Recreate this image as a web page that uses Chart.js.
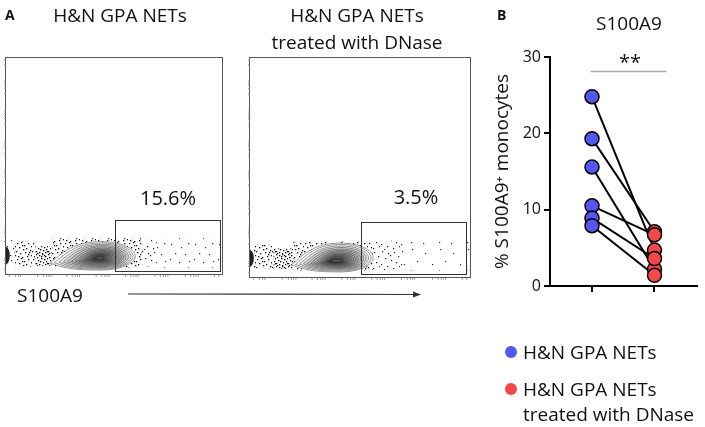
<!DOCTYPE html>
<html><head><meta charset="utf-8">
<script src="https://cdn.jsdelivr.net/npm/chart.js@4.4.0/dist/chart.umd.min.js"></script>
<style>
html,body{margin:0;padding:0;background:#fff;}
body{width:705px;height:427px;position:relative;overflow:hidden;font-family:'Open Sans',sans-serif;color:#111;}
.t{position:absolute;white-space:nowrap;line-height:1;transform:translate(-50%,-50%);font-size:19px;}
.l{position:absolute;white-space:nowrap;line-height:1;transform:translateY(-50%);font-size:19px;}
.b{font-weight:bold;font-size:14px;}
.box{position:absolute;}
.dot{position:absolute;width:12px;height:12px;border-radius:50%;transform:translate(-50%,-50%);}
</style></head><body>

<div class="box" style="left:0;top:50px;width:232px;height:232px;"><canvas id="f1" width="232" height="232"></canvas></div>
<div class="box" style="left:240px;top:50px;width:235px;height:235px;"><canvas id="f2" width="235" height="235"></canvas></div>
<div class="box" style="left:480px;top:0;width:225px;height:300px;"><canvas id="pb" width="225" height="300"></canvas></div>

<svg class="box" style="left:0;top:0" width="705" height="427">
  <line x1="128" y1="294" x2="415" y2="294.5" stroke="#333" stroke-width="1.2"/>
  <polygon points="413,291.5 421,294.5 413,297.5" fill="#333"/>
</svg>

<div id="labels"></div>

<script>
// ================= Panel A: flow plots =================
const panelLetters = ['A', 'B'];
const flowTitle1 = ['H&N GPA NETs'];
const flowTitle2 = ['H&N GPA NETs', 'treated with DNase'];
const flowAxisLabel = 'S100A9';
const gatePercents = ['15.6%', '3.5%'];
// gates in data units (x: S100A9 intensity 0-1000, y: 0-1000)
const gate1X = [505, 990], gate1Y = [15, 250];
const gate2X = [505, 982], gate2Y = [15, 250];
// contour levels: [xLeft, xRight, yBottom, yTop]
const contours1 = [
  [208, 600, 18, 149], [228, 590, 22, 143], [248, 580, 26, 137], [268, 569, 30, 131],
  [288, 558, 34, 125], [306, 547, 38, 119], [323, 536, 42, 113], [338, 525, 46, 108],
  [352, 514, 50, 103], [364, 503, 54, 98], [375, 493, 57, 94], [385, 484, 60, 90],
  [394, 475, 63, 86], [402, 466, 66, 82], [409, 458, 69, 79]
];
const contours2 = [
  [192, 562, 23, 154], [210, 552, 27, 148], [228, 541, 31, 141], [246, 530, 35, 134],
  [263, 519, 39, 127], [279, 507, 43, 121], [294, 495, 46, 115], [307, 484, 50, 109],
  [319, 473, 53, 104], [329, 463, 56, 99], [338, 454, 59, 94], [346, 445, 62, 90],
  [353, 437, 64, 86], [359, 430, 67, 82], [364, 423, 69, 79]
];
// pile-up at the left edge: [xLeft, xRight, yBottom, yTop]
const blob1 = [0, 22, 42, 128];
const blob2 = [0, 22, 45, 125];
// event bands: [xStart, xEnd, yBottom, yTop, density]
const events1 = [[0,45,40,155,'m'],[45,140,35,150,'d'],[140,215,38,128,'dd'],[215,630,30,165,'d'],[630,700,35,160,'m'],[700,1000,30,165,'s']];
const events2 = [[22,110,40,150,'d'],[110,200,38,130,'dd'],[200,560,30,160,'d'],[560,700,30,165,'m'],[700,1000,30,160,'s2']];
// minor tick positions on the flow axes
const flowTicksX = [20, 48, 62, 72, 150, 178, 192, 202, 212, 285, 310, 324, 334, 344, 420, 446, 460, 470, 480, 555, 580, 594, 604, 614, 690, 716, 730, 740, 750, 830, 856, 870, 880, 890, 965, 985];

// ================= Panel B: paired dot plot =================
const groupNames = ['H&N GPA NETs', 'H&N GPA NETs treated with DNase'];
const groupPos = [1, 2];
const untreated = [24.8, 19.3, 15.6, 10.5, 8.9, 7.9];
const dnase = [4.7, 7.1, 2.2, 6.7, 3.6, 1.4];
const yTicks = [0, 10, 20, 30];
const sigX = [0.98, 2.19], sigY = 28.1, sigLabel = '**';
const panelBTitle = 'S100A9';
const yAxisTitle = '% S100A9\u207A monocytes';

// ---- stipple patterns (style) ----
function makePattern(size, dots, color, dsz) {
  const c = document.createElement('canvas'); c.width = size; c.height = size;
  const g = c.getContext('2d'); g.fillStyle = color;
  dots.forEach(d => g.fillRect(d[0], d[1], dsz, dsz));
  return g.createPattern(c, 'repeat');
}
const patterns = {
  dd: makePattern(12, [[0,0],[3,1],[6,0],[9,2],[1,3],[5,4],[8,5],[11,4],[2,6],[4,7],[7,8],[10,7],
    [0,9],[3,10],[6,11],[9,10],[11,9],[1,11],[5,2],[8,1]], '#000', 1.3),
  d: makePattern(16, [[1,1],[5,0],[8,3],[12,1],[15,4],[3,5],[7,7],[10,6],[14,8],[0,9],[4,11],
    [9,10],[12,12],[2,14],[6,15],[11,14],[15,13],[6,3],[13,10]], '#111', 1.3),
  m: makePattern(20, [[2,1],[8,3],[14,2],[18,6],[5,8],[11,10],[16,12],[1,14],[7,16],[13,18],[19,16],[4,19],[10,5]], '#222', 1.2),
  s: makePattern(24, [[3,2],[13,5],[20,1],[7,11],[17,12],[2,17],[11,20],[21,19]], '#333', 1.2),
  s2: makePattern(28, [[4,3],[17,7],[9,15],[24,18],[3,24],[15,25]], '#333', 1.2)
};

function bandDatasets(events) {
  return events.map(e => ({
    type: 'line',
    data: [{x: e[0], y: e[3]}, {x: e[1], y: e[3]}],
    borderWidth: 0, pointRadius: 0,
    fill: {value: e[2]},
    backgroundColor: patterns[e[4]]
  }));
}

function teardrop(ctx, sx, sy, c) {
  const xl = sx.getPixelForValue(c[0]), xr = sx.getPixelForValue(c[1]);
  const yb = sy.getPixelForValue(c[2]), yt = sy.getPixelForValue(c[3]);
  const cx = xl + 0.6 * (xr - xl), cy = (yb + yt) / 2;
  const tipY = cy + 0.25 * (yb - yt);
  const k = 0.5523, rx = xr - cx, ryT = cy - yt, ryB = yb - cy;
  ctx.beginPath();
  ctx.moveTo(xl, tipY);
  ctx.bezierCurveTo(xl + (cx - xl) * 0.3, tipY - (tipY - yt) * 0.6, cx - (cx - xl) * 0.5, yt, cx, yt);
  ctx.bezierCurveTo(cx + k * rx, yt, xr, cy - k * ryT, xr, cy);
  ctx.bezierCurveTo(xr, cy + k * ryB, cx + k * rx, yb, cx, yb);
  ctx.bezierCurveTo(cx - (cx - xl) * 0.5, yb, xl + (cx - xl) * 0.3, yb - (yb - tipY) * 0.2, xl, tipY);
  ctx.closePath();
}

const flowPlugin = {
  id: 'flow',
  afterDatasetsDraw(chart, args, opts) {
    const ctx = chart.ctx, sx = chart.scales.x, sy = chart.scales.y, a = chart.chartArea;
    ctx.save();
    // pile-up blob
    const b = opts.blob;
    const bx1 = sx.getPixelForValue(b[0]), bx2 = sx.getPixelForValue(b[1]);
    const by1 = sy.getPixelForValue(b[2]), by2 = sy.getPixelForValue(b[3]);
    ctx.fillStyle = '#222';
    ctx.beginPath();
    ctx.ellipse(bx1, (by1 + by2) / 2, bx2 - bx1, (by1 - by2) / 2, 0, -Math.PI / 2, Math.PI / 2);
    ctx.fill();
    // contours
    const cs = opts.contours;
    teardrop(ctx, sx, sy, cs[0]);
    ctx.fillStyle = '#fff'; ctx.fill();
    cs.forEach((c, i) => {
      teardrop(ctx, sx, sy, c);
      if (i >= 2) { ctx.fillStyle = 'rgba(60,60,60,0.11)'; ctx.fill(); }
      const shade = Math.round(120 - i * 6);
      ctx.strokeStyle = 'rgb(' + shade + ',' + shade + ',' + shade + ')';
      ctx.lineWidth = 0.75;
      ctx.stroke();
    });
    // gate
    const gx1 = sx.getPixelForValue(opts.gateX[0]), gx2 = sx.getPixelForValue(opts.gateX[1]);
    const gy1 = sy.getPixelForValue(opts.gateY[0]), gy2 = sy.getPixelForValue(opts.gateY[1]);
    ctx.strokeStyle = '#333'; ctx.lineWidth = 1;
    ctx.strokeRect(Math.round(gx1) + 0.5, Math.round(gy2) + 0.5, Math.round(gx2 - gx1), Math.round(gy1 - gy2));
    // frame
    ctx.strokeStyle = '#555';
    ctx.strokeRect(Math.round(a.left) + 0.5, Math.round(a.top) + 0.5, Math.round(a.right - a.left), Math.round(a.bottom - a.top));
    // minor ticks
    ctx.strokeStyle = '#888'; ctx.lineWidth = 0.8;
    flowTicksX.forEach(v => {
      const px = sx.getPixelForValue(v);
      ctx.beginPath(); ctx.moveTo(px, a.bottom + 1); ctx.lineTo(px, a.bottom + 3); ctx.stroke();
      const py = sy.getPixelForValue(v);
      ctx.beginPath(); ctx.moveTo(a.left - 1, py); ctx.lineTo(a.left + 1, py); ctx.stroke();
    });
    ctx.restore();
  }
};

function flowChart(id, events, contours, blob, gateX, gateY, padding) {
  return new Chart(document.getElementById(id), {
    type: 'scatter',
    data: {datasets: bandDatasets(events)},
    options: {
      responsive: false, animation: false, events: [],
      layout: {padding: padding},
      scales: {
        x: {type: 'linear', min: 0, max: 1000, display: false},
        y: {type: 'linear', min: 0, max: 1000, display: false}
      },
      plugins: {
        legend: {display: false}, tooltip: {enabled: false},
        flow: {contours: contours, blob: blob, gateX: gateX, gateY: gateY}
      }
    },
    plugins: [flowPlugin]
  });
}
const f1 = flowChart('f1', events1, contours1, blob1, gate1X, gate1Y, {left: 5, top: 7, right: 10, bottom: 8});
const f2 = flowChart('f2', events2, contours2, blob2, gate2X, gate2Y, {left: 9, top: 7, right: 5, bottom: 8});

// ---- Panel B chart ----
const pairSets = untreated.map((v, i) => ({
  type: 'line',
  data: [{x: groupPos[0], y: v}, {x: groupPos[1], y: dnase[i]}],
  borderColor: '#000', borderWidth: 2, pointRadius: 0, order: 3
}));
const pb = new Chart(document.getElementById('pb'), {
  type: 'scatter',
  data: {
    datasets: [
      {label: groupNames[0], data: untreated.map(v => ({x: groupPos[0], y: v})),
       backgroundColor: '#5656f2', borderColor: '#000', borderWidth: 1.5, pointRadius: 7, order: 1, clip: false},
      {label: groupNames[1], data: dnase.map(v => ({x: groupPos[1], y: v})),
       backgroundColor: '#f24a4a', borderColor: '#000', borderWidth: 1.5, pointRadius: 7, order: 1, clip: false},
      {type: 'line', data: [{x: sigX[0], y: sigY}, {x: sigX[1], y: sigY}],
       borderColor: '#aaa', borderWidth: 1.3, pointRadius: 0, order: 4, clip: false}
    ].concat(pairSets)
  },
  options: {
    responsive: false, animation: false, events: [],
    layout: {padding: {top: 57, left: 0, right: 5, bottom: 0}},
    scales: {
      x: {
        type: 'linear', min: 0.328, max: 2.672,
        afterBuildTicks: s => { s.ticks = groupPos.map(v => ({value: v})); },
        afterFit: s => { s.height = 14; },
        ticks: {display: false},
        grid: {drawOnChartArea: false, drawTicks: true, tickLength: 6, color: '#000', lineWidth: 2},
        border: {display: true, color: '#000', width: 2}
      },
      y: {
        type: 'linear', min: 0, max: 30,
        afterBuildTicks: s => { s.ticks = yTicks.map(v => ({value: v})); },
        afterFit: s => { s.width = 70; },
        ticks: {color: '#111', font: {family: 'Open Sans', size: 16}, padding: 3},
        grid: {drawOnChartArea: false, drawTicks: true, tickLength: 6, color: '#000', lineWidth: 2},
        border: {display: true, color: '#000', width: 2},
        title: {display: true, text: yAxisTitle, color: '#111', font: {family: 'Open Sans', size: 19}, padding: {top: 11, bottom: 0}}
      }
    },
    plugins: {legend: {display: false}, tooltip: {enabled: false}}
  }
});

// ---- HTML text labels ----
const L = document.getElementById('labels');
function txt(s, x, y, cls, center) {
  const d = document.createElement('div');
  d.className = (center === false ? 'l ' : 't ') + (cls || '');
  d.style.left = x + 'px'; d.style.top = y + 'px';
  d.textContent = s; L.appendChild(d); return d;
}
txt(panelLetters[0], 5, 15, 'b', false);
txt(panelLetters[1], 497, 15, 'b', false);
txt(flowTitle1[0], 120, 15);
txt(flowTitle2[0], 357, 15);
txt(flowTitle2[1], 357, 41.5);
txt(gatePercents[0], 168, 197.5).style.fontSize = '20px';
txt(gatePercents[1], 416, 196.5).style.fontSize = '20px';
txt(flowAxisLabel, 17, 295, '', false);
txt(panelBTitle, 629, 23);
txt(sigLabel, 630, 62).style.fontSize = '20px';
// legend
function legendItem(color, lines, y) {
  const d = document.createElement('div'); d.className = 'dot';
  d.style.left = '511px'; d.style.top = y + 'px'; d.style.background = color; L.appendChild(d);
  lines.forEach((s, i) => txt(s, 523, y + i * 25, '', false));
}
legendItem('#5656f2', ['H&N GPA NETs'], 352);
legendItem('#f24a4a', ['H&N GPA NETs', 'treated with DNase'], 388.5);
</script>
</body></html>
